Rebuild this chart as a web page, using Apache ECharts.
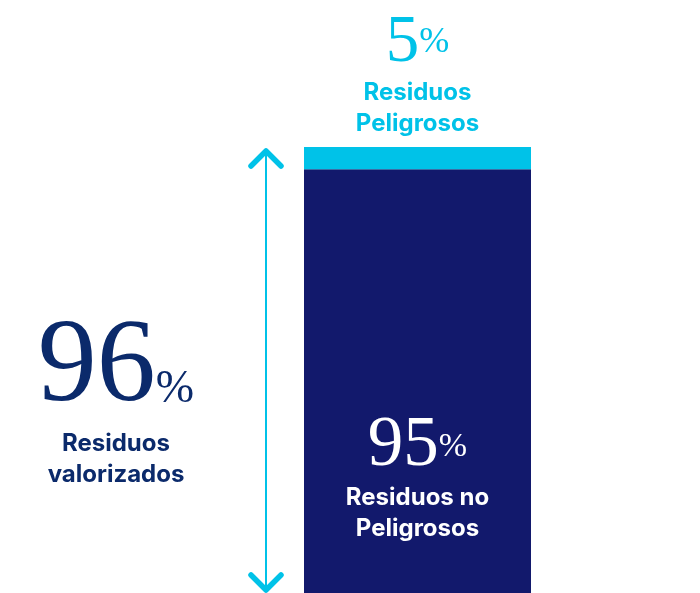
<!DOCTYPE html>
<html>
<head>
<meta charset="utf-8">
<script src="https://cdn.jsdelivr.net/npm/echarts@6/dist/echarts.min.js"></script>
<style>
  html, body { margin: 0; padding: 0; background: #fff; }
  #chart { width: 700px; height: 593px; }
</style>
</head>
<body>
<div id="chart"></div>
<script>
// --- datos ---
const categories   = ['Residuos']
const noPeligrosos = [95]
const peligrosos   = [5]
const valorizados  = [96]
const labelNoPel   = ['Residuos no', 'Peligrosos']
const labelPel     = ['Residuos', 'Peligrosos']
const labelVal     = ['Residuos', 'valorizados']

// --- colores ---
const NAVY = '#12196c'
const CYAN = '#00c2e8'
const INK  = '#0b2a6b'
const SERIF = '"Liberation Serif", "DejaVu Serif", serif'
const SANS  = 'Inter, "Noto Sans", sans-serif'

// numero grande + % pequeño (pctLift sube el %) + textos en negrita
const richFor = (color, numSize, numLine, pctSize, pctLift) => ({
  num: { fontFamily: SERIF, fontSize: numSize, color, fill: color, lineHeight: numLine, verticalAlign: 'bottom' },
  pct: { fontFamily: SERIF, fontSize: pctSize, color, fill: color, verticalAlign: 'bottom', padding: [0, 0, pctLift, 0] },
  txt: { fontFamily: SANS, fontWeight: 'bold', fontSize: 24, color, fill: color, lineHeight: 31 }
})

const chart = echarts.init(document.getElementById('chart'))
chart.setOption({
  animation: false,
  grid: { left: 304, right: 169, top: 147, bottom: 0 },
  xAxis: { type: 'category', data: categories, show: false },
  yAxis: { type: 'value', min: 0, max: 100, show: false },
  series: [
    {
      type: 'bar',
      stack: 'total',
      barWidth: '100%',
      data: noPeligrosos,
      itemStyle: { color: NAVY },
      label: {
        show: true,
        position: ['50%', 251],
        align: 'center',
        verticalAlign: 'top',
        formatter: p => `{num|${p.value}}{pct|%}\n{txt|${labelNoPel[0]}}\n{txt|${labelNoPel[1]}}`,
        rich: richFor('#ffffff', 71, 62, 34, 18)
      }
    },
    {
      type: 'bar',
      stack: 'total',
      barWidth: '100%',
      data: peligrosos,
      itemStyle: { color: CYAN },
      label: {
        show: true,
        position: 'top',
        distance: 8,
        formatter: p => `{num|${p.value}}{pct|%}\n{txt|${labelPel[0]}}\n{txt|${labelPel[1]}}`,
        rich: richFor(CYAN, 67, 59, 36, 16)
      }
    }
  ],
  graphic: [
    // flecha vertical
    { type: 'line', shape: { x1: 266, y1: 151, x2: 266, y2: 590 }, style: { stroke: CYAN, lineWidth: 2 } },
    { type: 'polyline', shape: { points: [[251, 166], [266, 151], [281, 166]] },
      style: { stroke: CYAN, lineWidth: 5.5, lineCap: 'round', lineJoin: 'round', fill: null } },
    { type: 'polyline', shape: { points: [[251, 575], [266, 590], [281, 575]] },
      style: { stroke: CYAN, lineWidth: 5.5, lineCap: 'round', lineJoin: 'round', fill: null } },
    // 96% valorizados
    {
      type: 'text',
      x: 116, y: 327,
      style: {
        text: `{num|${valorizados[0]}}{pct|%}\n{txt|${labelVal[0]}}\n{txt|${labelVal[1]}}`,
        align: 'center',
        verticalAlign: 'top',
        fill: INK,
        rich: richFor(INK, 118, 101, 46, 15)
      }
    }
  ]
})
</script>
</body>
</html>
